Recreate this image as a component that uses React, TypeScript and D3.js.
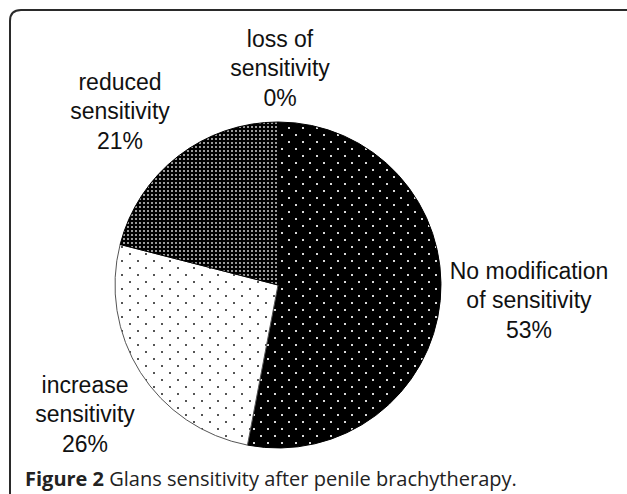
import React from 'react';
import * as d3 from 'd3';

// chart data (clockwise from 12 o'clock)
const categories = [
  'No modification of sensitivity',
  'increase sensitivity',
  'reduced sensitivity',
  'loss of sensitivity'
];
const values = [53, 26, 21, 0];
const labelLines = [
  ['No modification', 'of sensitivity'],
  ['increase', 'sensitivity'],
  ['reduced', 'sensitivity'],
  ['loss of', 'sensitivity']
];
const captionBold = 'Figure 2';
const captionText = 'Glans sensitivity after penile brachytherapy.';

// layout
const width = 627;
const height = 494;
const cx = 278;
const cy = 285;
const radius = 163;
const lineGap = 29.5;
// label block centres, relative to the pie centre
const labelOffsets: [number, number][] = [
  [251, 15],
  [-193, 129],
  [-158, -174],
  [2, -217]
];
const fills = ['url(#dotsOnBlack)', 'url(#dotsOnWhite)', 'url(#denseDots)', '#000'];
const strokes = ['#000', '#555', '#000', '#000'];

const labelFont = '"Liberation Sans", Arial, sans-serif';
const captionFont = '"Open Sans", "Noto Sans", sans-serif';

export default function App(): JSX.Element {
  const pie = d3
    .pie<number>()
    .sort(null)
    .value((d) => d);
  const arcs = pie(values);
  const arc = d3.arc<d3.PieArcDatum<number>>().innerRadius(0).outerRadius(radius);

  return (
    <svg
      width={width}
      height={height}
      style={{ position: 'absolute', left: 0, top: 0, background: '#fff' }}
    >
      <defs>
        <pattern id="dotsOnBlack" width={14} height={14} patternUnits="userSpaceOnUse">
          <rect width={14} height={14} fill="#000" />
          <rect x={3} y={3} width={2} height={2} fill="#d8d8d8" />
          <rect x={10} y={10} width={2} height={2} fill="#d8d8d8" />
        </pattern>
        <pattern id="dotsOnWhite" width={16} height={14} patternUnits="userSpaceOnUse">
          <rect width={16} height={14} fill="#fff" />
          <rect x={3} y={3} width={2} height={2} fill="#555" />
          <rect x={11} y={10} width={2} height={2} fill="#555" />
        </pattern>
        <pattern id="denseDots" width={4} height={4} patternUnits="userSpaceOnUse">
          <rect width={4} height={4} fill="#000" />
          <rect x={1} y={1} width={2} height={2} fill="#9a9a9a" />
        </pattern>
      </defs>

      {/* frame with rounded top-left corner */}
      <path
        d={`M10,${height + 5} L10,21 Q10,10 21,10 L${width + 5},10`}
        fill="none"
        stroke="#2a2a2a"
        strokeWidth={2}
      />

      <g transform={`translate(${cx},${cy})`}>
        {arcs.map((a, i) =>
          a.endAngle - a.startAngle > 0 ? (
            <path key={categories[i]} d={arc(a) || ''} fill={fills[i]} stroke={strokes[i]} strokeWidth={1} />
          ) : null
        )}
        {arcs.map((a, i) => {
          const [ox, oy] = labelOffsets[i];
          const lines = [...labelLines[i], `${values[i]}%`];
          return (
            <text
              key={'label-' + i}
              textAnchor="middle"
              fontFamily={labelFont}
              fontSize={23}
              fill="#111"
            >
              {lines.map((t, j) => (
                <tspan key={j} x={ox} y={oy + (j - 1) * lineGap + 8}>
                  {t}
                </tspan>
              ))}
            </text>
          );
        })}
      </g>

      <text x={25} y={486} fontFamily={captionFont} fontSize={20} fill="#222">
        <tspan fontWeight="bold">{captionBold}</tspan> {captionText}
      </text>
    </svg>
  );
}
